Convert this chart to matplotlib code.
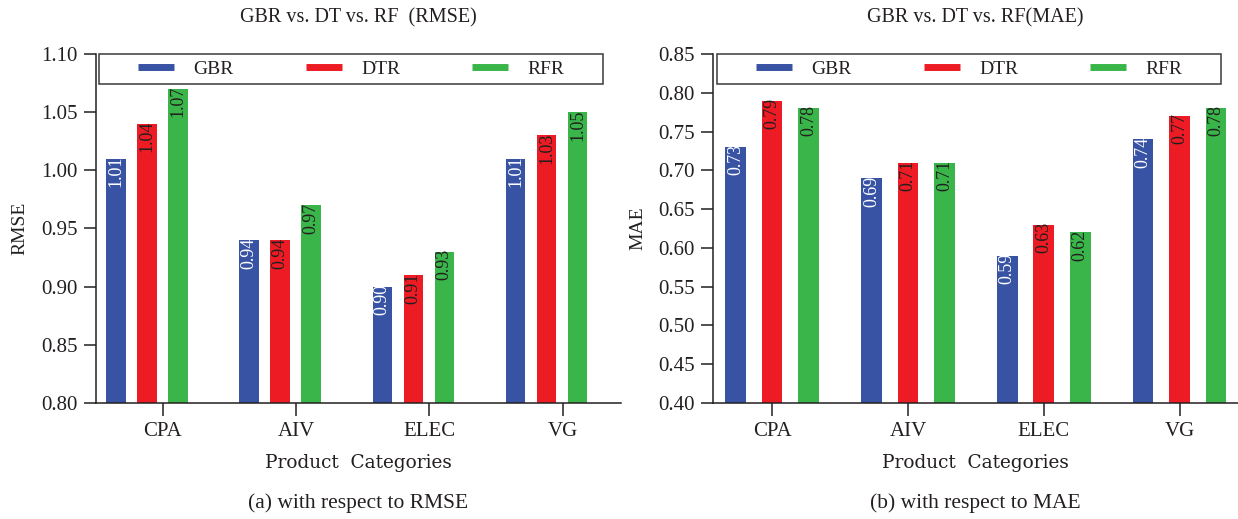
import numpy as np
import matplotlib.pyplot as plt
from matplotlib.lines import Line2D
from matplotlib.patches import Rectangle

plt.rcParams['font.family'] = ['Liberation Serif', 'DejaVu Serif']

# Product categories and model scores
categories = ['CPA', 'AIV', 'ELEC', 'VG']
models = ['GBR', 'DTR', 'RFR']

rmse_gbr = [1.01, 0.94, 0.90, 1.01]
rmse_dtr = [1.04, 0.94, 0.91, 1.03]
rmse_rfr = [1.07, 0.97, 0.93, 1.05]

mae_gbr = [0.73, 0.69, 0.59, 0.74]
mae_dtr = [0.79, 0.71, 0.63, 0.77]
mae_rfr = [0.78, 0.71, 0.62, 0.78]

colors = ['#3853a4', '#ed1c24', '#39b54a']
label_colors = ['white', '#231f20', '#231f20']
ink = '#231f20'

fig = plt.figure(figsize=(12.38, 5.19), dpi=100)
ax1 = fig.add_axes([0.0775, 0.2235, 0.4241, 0.6725])
ax2 = fig.add_axes([0.5760, 0.2235, 0.4240, 0.6725])


def draw_panel(ax, series, title, ylabel, ylim, xlim, width, step, tick_shift):
    x = np.arange(len(categories))
    for k, values in enumerate(series):
        pos = x + (k - 1) * step
        ax.bar(pos, values, width=width, color=colors[k])
        # value labels written up the bar, top aligned with the bar end
        for px, v in zip(pos, values):
            ax.annotate(f'{v:.2f}', (px, v), xytext=(0, 2), textcoords='offset points',
                        rotation=90, ha='center', va='top', fontsize=13,
                        color=label_colors[k])

    ax.set_xlim(*xlim)
    ax.set_ylim(*ylim)
    ax.set_yticks(np.arange(ylim[0], ylim[1] + 0.001, 0.05))
    ax.yaxis.set_major_formatter(plt.FormatStrFormatter('%.2f'))
    ax.set_xticks(x + tick_shift)
    ax.set_xticklabels(categories)

    for side in ['top', 'right']:
        ax.spines[side].set_visible(False)
    for side in ['left', 'bottom']:
        ax.spines[side].set_linewidth(1.1)
        ax.spines[side].set_color(ink)
    ax.tick_params(axis='both', direction='out', length=9, width=1.1, colors=ink,
                   labelsize=15, labelcolor=ink)
    ax.tick_params(axis='y', pad=4)
    ax.tick_params(axis='x', pad=5)

    ax.set_title(title, fontsize=14.5, color=ink, pad=23)
    ax.set_ylabel(ylabel, fontsize=14, color=ink, labelpad=9)
    ax.set_xlabel('Product  Categories', fontsize=13.3, color=ink, labelpad=9,
                  family='DejaVu Serif')


draw_panel(ax1, [rmse_gbr, rmse_dtr, rmse_rfr], 'GBR vs. DT vs. RF  (RMSE)', 'RMSE',
           (0.80, 1.10), (-0.383, 3.559), 0.146, 0.233, 0.12)
draw_panel(ax2, [mae_gbr, mae_dtr, mae_rfr], 'GBR vs. DT vs. RF(MAE)', 'MAE',
           (0.40, 0.85), (-0.435, 3.43), 0.152, 0.269, 0.0)

# legend strip across the top of each panel
handles = [Line2D([], [], color=c, lw=5, solid_capstyle='butt') for c in colors]
for ax, (x0, x1) in [(ax1, (0.006, 0.966)), (ax2, (0.008, 0.968))]:
    ax.add_patch(Rectangle((x0, 0.914), x1 - x0, 0.086, transform=ax.transAxes,
                           fill=False, edgecolor='#3a3a3a', lw=1.1, clip_on=False, zorder=5))
    ax.legend(handles, models, loc='center', bbox_to_anchor=((x0 + x1) / 2, 0.957),
              ncol=3, frameon=False, fontsize=14, handlelength=1.85,
              handletextpad=1.0, columnspacing=3.7, labelcolor=ink,
              borderpad=0.1)

fig.text(0.2896, 1 - 503 / 519, '(a) with respect to RMSE', ha='center', va='center',
         fontsize=15.5, color=ink)
fig.text(0.7880, 1 - 503 / 519, '(b) with respect to MAE', ha='center', va='center',
         fontsize=15.5, color=ink)

plt.savefig('out.png', dpi=100)
